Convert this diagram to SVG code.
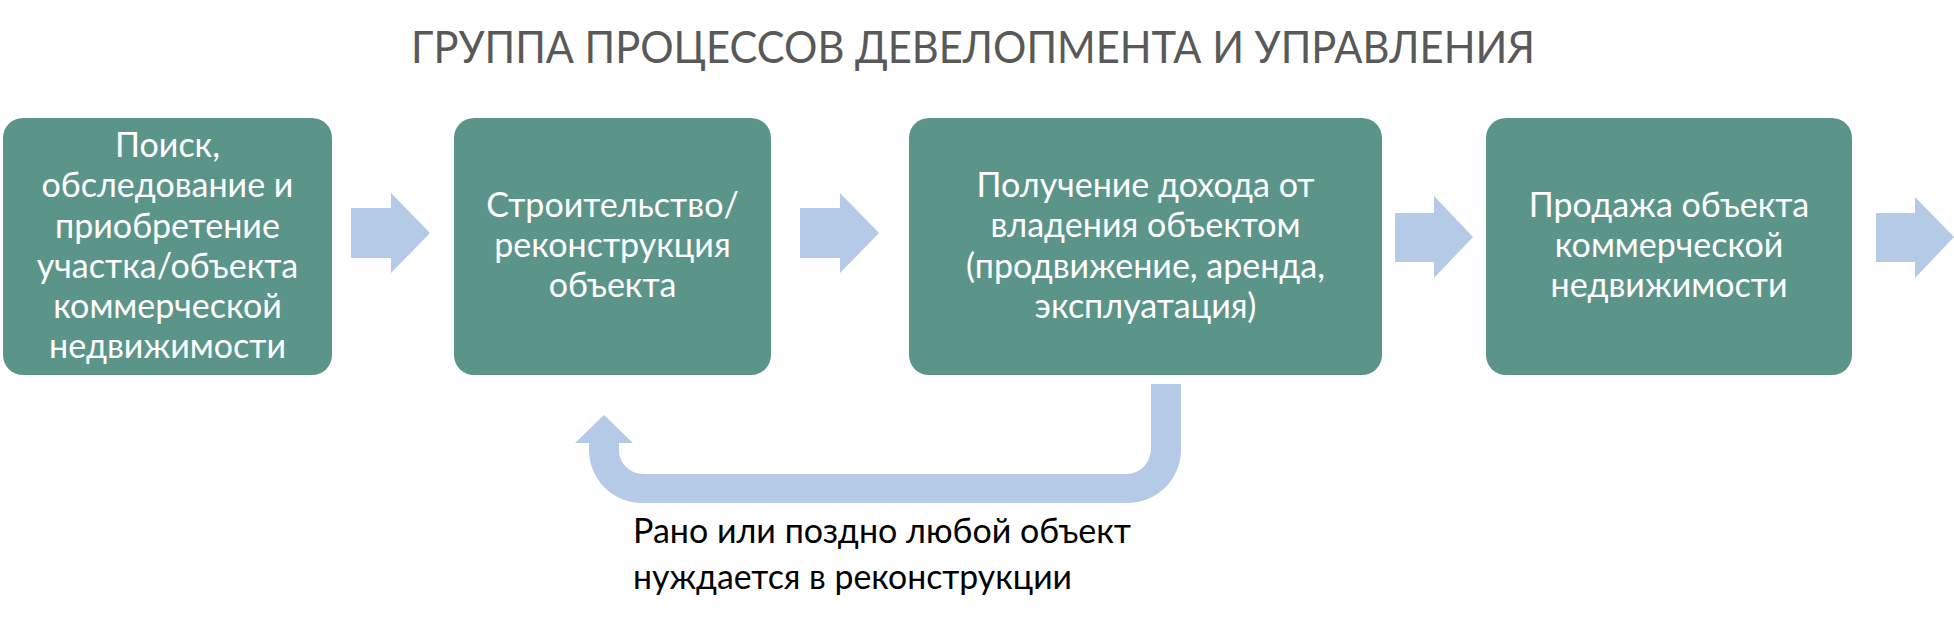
<svg xmlns="http://www.w3.org/2000/svg" width="1954" height="622" viewBox="0 0 1954 622">
<style>
.box{fill:#5B9589}
.arr{fill:#B5CAE6}
.t{font-family:Lato,"Liberation Sans",sans-serif;fill:#FFFFFF;font-size:34px;text-anchor:middle}
.title{font-family:Lato,"Liberation Sans",sans-serif;fill:#595959;font-size:44px;text-anchor:middle}
.note{font-family:Lato,"Liberation Sans",sans-serif;fill:#000000;font-size:34px}
</style>
<rect width="1954" height="622" fill="#FFFFFF"/>
<text class="title" x="973" y="63" textLength="1124" lengthAdjust="spacingAndGlyphs">ГРУППА ПРОЦЕССОВ ДЕВЕЛОПМЕНТА И УПРАВЛЕНИЯ</text>
<g id="connectors">
<polygon class="arr" points="351,208 391,208 391,193 430,233 391,273 391,258 351,258"/>
<polygon class="arr" points="800,208 840,208 840,193 879,233 840,273 840,258 800,258"/>
<polygon class="arr" points="1395,213 1434,213 1434,196 1473,237 1434,278 1434,262 1395,262"/>
<polygon class="arr" points="1876,213 1915,213 1915,197 1954,237 1915,278 1915,262 1876,262"/>
<path class="arr" d="M1151,384 H1181 V450 A54,53 0 0 1 1127,503 H642 A53,53 0 0 1 589,450 V443 H575 L604,415 L633,443 H619 V450 A24,24 0 0 0 643,474 H1127 A24,26 0 0 0 1151,448 Z"/>
</g>
<g id="node1">
<rect class="box" x="3" y="118" width="329" height="257" rx="20"/>
<text class="t" x="167.5" y="157">Поиск,</text>
<text class="t" x="167.5" y="197">обследование и</text>
<text class="t" x="167.5" y="238">приобретение</text>
<text class="t" x="167.5" y="278">участка/объекта</text>
<text class="t" x="167.5" y="318">коммерческой</text>
<text class="t" x="167.5" y="358">недвижимости</text>
</g>
<g id="node2">
<rect class="box" x="454" y="118" width="317" height="257" rx="20"/>
<text class="t" x="612.5" y="217">Строительство/</text>
<text class="t" x="612.5" y="257">реконструкция</text>
<text class="t" x="612.5" y="297">объекта</text>
</g>
<g id="node3">
<rect class="box" x="909" y="118" width="473" height="257" rx="20"/>
<text class="t" x="1145.5" y="197">Получение дохода от</text>
<text class="t" x="1145.5" y="237">владения объектом</text>
<text class="t" x="1145.5" y="278">(продвижение, аренда,</text>
<text class="t" x="1145.5" y="318">эксплуатация)</text>
</g>
<g id="node4">
<rect class="box" x="1486" y="118" width="366" height="257" rx="20"/>
<text class="t" x="1669" y="217">Продажа объекта</text>
<text class="t" x="1669" y="257">коммерческой</text>
<text class="t" x="1669" y="297">недвижимости</text>
</g>
<g id="note">
<text class="note" x="633" y="543" textLength="498" lengthAdjust="spacingAndGlyphs">Рано или поздно любой объект</text>
<text class="note" x="633" y="589" textLength="439" lengthAdjust="spacingAndGlyphs">нуждается в реконструкции</text>
</g>
</svg>
